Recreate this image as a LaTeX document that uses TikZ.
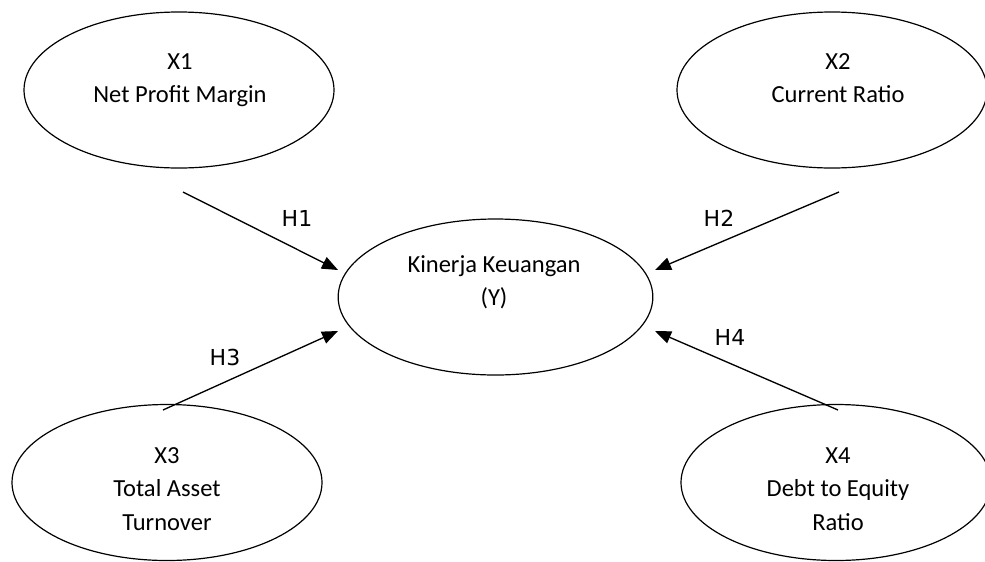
\documentclass[tikz,border=0pt]{standalone}
\usepackage{fontspec}
\setmainfont{Carlito}
\newfontfamily\hypfont{DejaVu Sans}
\usetikzlibrary{arrows.meta,shapes.geometric}

\begin{document}
\begin{tikzpicture}[
  x=0.75pt, y=-0.75pt, >={Triangle[length=12pt, width=9.5pt]},
  var/.style={ellipse, draw, line width=0.9pt, minimum width=232.5pt, minimum height=117pt, inner sep=0pt},
  vtxt/.style={anchor=north, inner sep=0pt, align=center, font=\fontsize{18.4}{25.2}\selectfont},
  hyp/.style={inner sep=0pt, font=\hypfont\fontsize{16.5}{18}\selectfont},
  link/.style={->, line width=1pt},
]
\useasboundingbox (0,0) rectangle (985,561);

% Variables X1..X4 and Y
\node[var] (x1) at (179,90) {};
\node[vtxt] (x1t) at (180,53) {X1\\Net Profit Margin};
\node[var] (x2) at (832,90) {};
\node[vtxt] (x2t) at (838,53) {X2\\Current Ratio};
\node[var, minimum width=236pt] (y) at (495.5,297) {};
\node[vtxt] (yt) at (494,255) {Kinerja Keuangan\\(Y)};
\node[var] (x3) at (167,482.5) {};
\node[vtxt] (x3t) at (167,447) {X3\\Total Asset\\Turnover};
\node[var] (x4) at (836,482.5) {};
\node[vtxt] (x4t) at (838,447) {X4\\Debt to Equity\\Ratio};

% Hypotheses
\coordinate (h1s) at (183,192); \coordinate (h1e) at (338,270);
\coordinate (h2s) at (839,192); \coordinate (h2e) at (655,270);
\coordinate (h3s) at (163,410); \coordinate (h3e) at (338,331);
\coordinate (h4s) at (838,410); \coordinate (h4e) at (655,331);
\draw[link] (h1s) -- (h1e);
\draw[link] (h2s) -- (h2e);
\draw[link] (h3s) -- (h3e);
\draw[link] (h4s) -- (h4e);
\node[hyp] (h1) at (297,218) {H1};
\node[hyp] (h2) at (719,218) {H2};
\node[hyp] (h3) at (225,357) {H3};
\node[hyp] (h4) at (730,337) {H4};
\end{tikzpicture}
\end{document}
